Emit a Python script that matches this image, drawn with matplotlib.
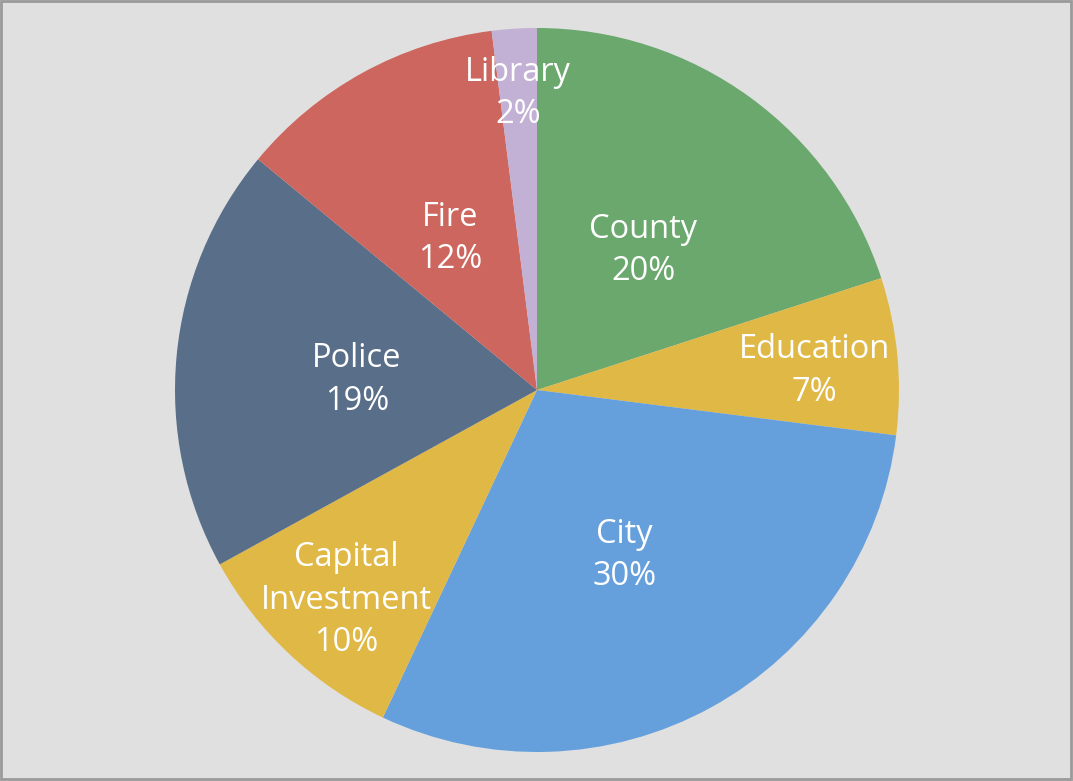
import numpy as np
import matplotlib.pyplot as plt

categories = ['County', 'Education', 'City', 'Capital\nInvestment', 'Police', 'Fire', 'Library']
shares = [20, 7, 30, 10, 19, 12, 2]
colors = ['#6AA86D', '#E0B845', '#65A0DD', '#E0B845', '#586E89', '#CD665E', '#C2B1D4']

W, H = 1073, 781
fig = plt.figure(figsize=(W / 100, H / 100), dpi=100)
fig.patch.set_facecolor('#E0E0E0')
ax = fig.add_axes([0, 0, 1, 1])

cx, cy, r = 537, 391, 362
wedges, _ = ax.pie(shares, colors=colors, startangle=90, counterclock=False,
                   radius=r, center=(cx, cy), frame=True,
                   wedgeprops=dict(linewidth=0))
ax.set_xlim(0, W)
ax.set_ylim(0, H)
ax.set_aspect('equal')
ax.axis('off')

for w, name, s in zip(wedges, categories, shares):
    mid = np.deg2rad((w.theta1 + w.theta2) / 2)
    # small slices get their label pushed out toward the rim
    if s < 5:
        rl = 0.84
    elif s <= 10:
        rl = 0.77
    else:
        rl = 0.5
    x = cx + rl * r * np.cos(mid)
    y = cy + rl * r * np.sin(mid) - 7
    ax.text(x, y, f'{name}\n{s}%', ha='center', va='center', color='white',
            fontsize=23.5, family='Open Sans', linespacing=1.38)

# outer border
fig.add_artist(plt.Rectangle((1 / W, 2 / H), (W - 3) / W, (H - 3) / H,
                             transform=fig.transFigure, fill=False,
                             edgecolor='#9A9A9A', linewidth=2))

fig.savefig('out.png', dpi=100, facecolor=fig.get_facecolor())
